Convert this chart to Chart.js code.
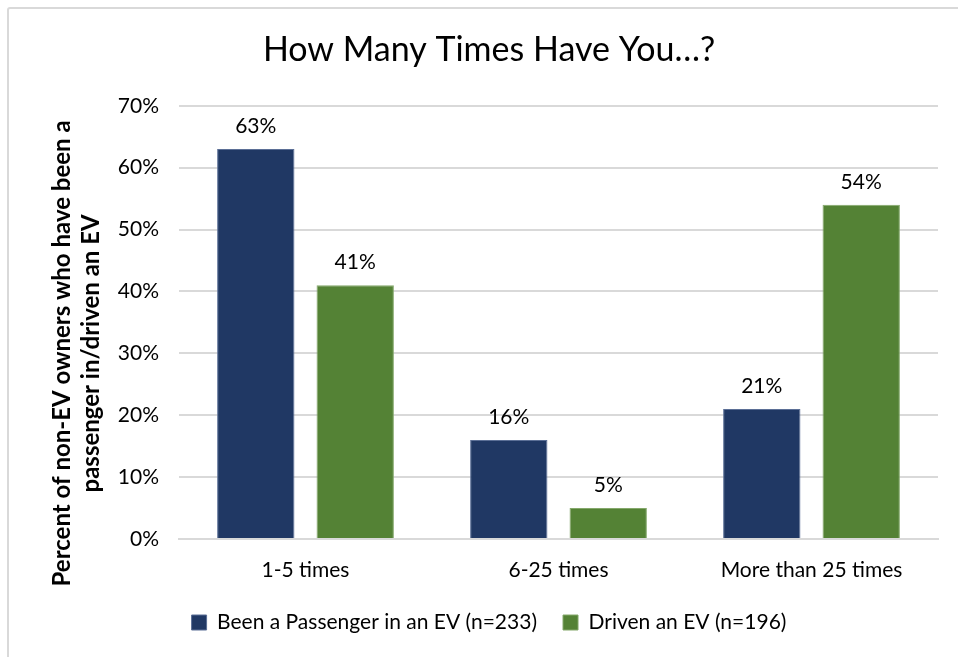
<!DOCTYPE html>
<html>
<head>
<meta charset="utf-8">
<script src="https://cdn.jsdelivr.net/npm/chart.js@4.4.1/dist/chart.umd.min.js"></script>
<style>
  html, body { margin: 0; padding: 0; background: #fff; }
  #frame {
    position: absolute; left: 7px; top: 7px;
    width: 1000px; height: 700px;
    border: 2px solid #d9d9d9; border-radius: 3px;
  }
  #wrap { position: absolute; left: 0; top: 0; width: 958px; height: 657px; }
</style>
</head>
<body>
<div id="frame"></div>
<div id="wrap"><canvas id="evChart"></canvas></div>
<script>
// survey answers, percent of respondents
var categories = ['1-5 times', '6-25 times', 'More than 25 times'];
var passengerValues = [63, 16, 21];
var drivenValues = [41, 5, 54];
var seriesNames = ['Been a Passenger in an EV (n=233)', 'Driven an EV (n=196)'];
var yTicks = [0, 10, 20, 30, 40, 50, 60, 70];
var yTitleLines = ['Percent of non-EV owners who have been a', 'passenger in/driven an EV'];

var FONT = 'Lato, "Open Sans", sans-serif';

// writes the percentage above each bar
var valueLabels = {
    id: 'valueLabels',
    afterDatasetsDraw: function(chart) {
        var ctx = chart.ctx;
        ctx.save();
        ctx.font = '21px ' + FONT;
        ctx.fillStyle = '#000';
        ctx.textAlign = 'center';
        ctx.textBaseline = 'middle';
        chart.data.datasets.forEach(function(ds, i) {
            chart.getDatasetMeta(i).data.forEach(function(bar, j) {
                ctx.fillText(ds.data[j] + '%', bar.x, bar.y - 23);
            });
        });
        ctx.restore();
    }
};

// two-line rotated axis title, sitting a bit below the middle of the plot
var yAxisTitle = {
    id: 'yAxisTitle',
    afterDraw: function(chart) {
        var ctx = chart.ctx;
        var area = chart.chartArea;
        var cx = chart.scales.y.left + 22;
        var cy = (area.top + area.bottom) / 2 + 31;
        ctx.save();
        ctx.translate(cx, cy);
        ctx.rotate(-Math.PI / 2);
        ctx.font = 'bold 24px ' + FONT;
        ctx.fillStyle = '#000';
        ctx.textAlign = 'center';
        ctx.textBaseline = 'middle';
        yTitleLines.forEach(function(line, i) {
            ctx.fillText(line, 0, i * 29);
        });
        ctx.restore();
    }
};

var ctx = document.getElementById('evChart').getContext('2d');
new Chart(ctx, {
    type: 'bar',
    data: {
        labels: categories,
        datasets: [{
            label: seriesNames[0],
            data: passengerValues,
            backgroundColor: '#203864',
            borderColor: '#5b6f96',
            borderWidth: 1
        }, {
            label: seriesNames[1],
            data: drivenValues,
            backgroundColor: '#548235',
            borderColor: '#84a86a',
            borderWidth: 1
        }]
    },
    options: {
        responsive: true,
        maintainAspectRatio: false,
        animation: false,
        layout: { padding: { left: 40, right: 20, top: 10, bottom: 14 } },
        categoryPercentage: 0.786,
        barPercentage: 0.778,
        plugins: {
            title: {
                display: true,
                text: 'How Many Times Have You\u2026?',
                color: '#000',
                font: { family: FONT, size: 34, weight: 'normal' },
                padding: { top: 20, bottom: 35 }
            },
            legend: {
                position: 'bottom',
                maxHeight: 60,
                labels: {
                    color: '#000',
                    font: { family: FONT, size: 21 },
                    boxWidth: 15,
                    boxHeight: 15,
                    padding: 26
                }
            },
            tooltip: { enabled: false }
        },
        scales: {
            x: {
                afterFit: function(scale) { scale.height = 47; },
                grid: { display: false, drawTicks: false },
                border: { color: '#d9d9d9', width: 2 },
                ticks: {
                    color: '#000',
                    font: { family: FONT, size: 21 },
                    padding: 19,
                    maxRotation: 0
                }
            },
            y: {
                min: 0,
                max: 70,
                afterBuildTicks: function(scale) {
                    scale.ticks = yTicks.map(function(v) { return { value: v }; });
                },
                afterFit: function(scale) { scale.width = 139; },
                grid: { color: '#d9d9d9', lineWidth: 2, drawTicks: false },
                border: { display: false },
                ticks: {
                    color: '#000',
                    font: { family: FONT, size: 21 },
                    padding: 20,
                    callback: function(v) { return v + '%'; }
                }
            }
        }
    },
    plugins: [valueLabels, yAxisTitle]
});
</script>
</body>
</html>
